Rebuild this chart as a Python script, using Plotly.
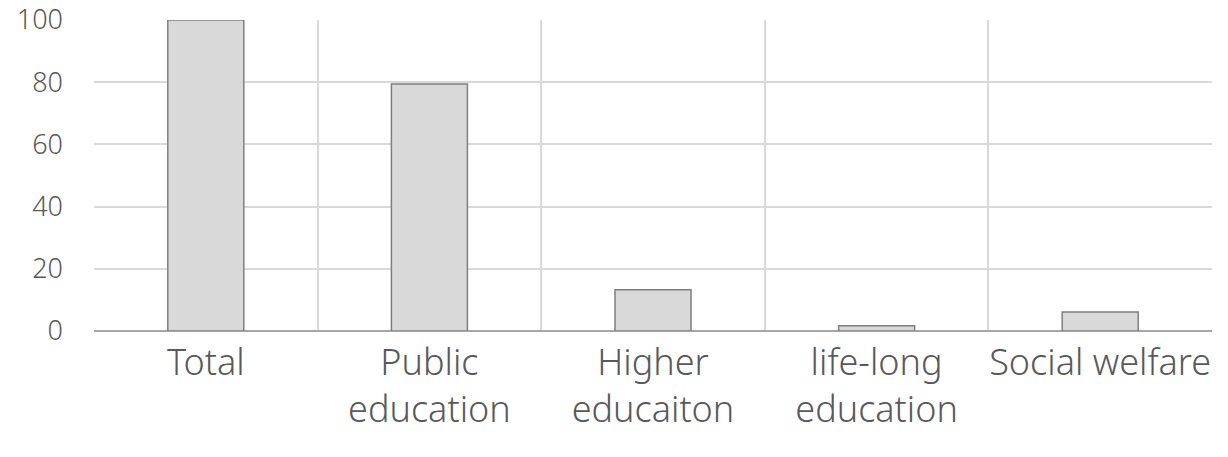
import plotly.graph_objects as go

categories = ["Total", "Public<br>education", "Higher<br>educaiton", "life-long<br>education", "Social welfare"]
values = [100, 79.4, 13.3, 1.7, 6.1]
y_ticks = [0, 20, 40, 60, 80, 100]

xs = list(range(len(categories)))
fig = go.Figure()
fig.add_trace(go.Bar(
    x=xs, y=values, width=0.34,
    marker=dict(color="#d9d9d9", line=dict(color="#7f7f7f", width=1.5)),
))

font_family = "Noto Sans"
fig.update_layout(
    width=1228, height=457,
    margin=dict(l=94, r=16, t=20, b=126, autoexpand=False),
    plot_bgcolor="white", paper_bgcolor="white",
    showlegend=False,
    font=dict(family=font_family, color="#595959"),
    xaxis=dict(
        range=[-0.5, len(categories) - 0.5],
        tickmode="array", tickvals=xs, ticktext=categories,
        showgrid=False, zeroline=False, automargin=False,
        showline=False,
        ticks="", ticklabelstandoff=7,
        tickfont=dict(size=36, family=font_family, color="#595959", weight=300),
        minor=dict(tickmode="array", tickvals=[i - 0.5 for i in range(len(categories) + 1)],
                   showgrid=True, gridcolor="#d9d9d9", gridwidth=1.5, ticks=""),
    ),
    yaxis=dict(
        range=[0, 100], automargin=False,
        tickmode="array", tickvals=y_ticks,
        showgrid=True, gridcolor="#d9d9d9", gridwidth=1.5,
        zeroline=True, zerolinecolor="#a6a6a6", zerolinewidth=2,
        ticks="", ticklabelstandoff=30,
        tickfont=dict(size=27, family=font_family, color="#595959", weight=300),
    ),
)
fig.write_html("out.html")
